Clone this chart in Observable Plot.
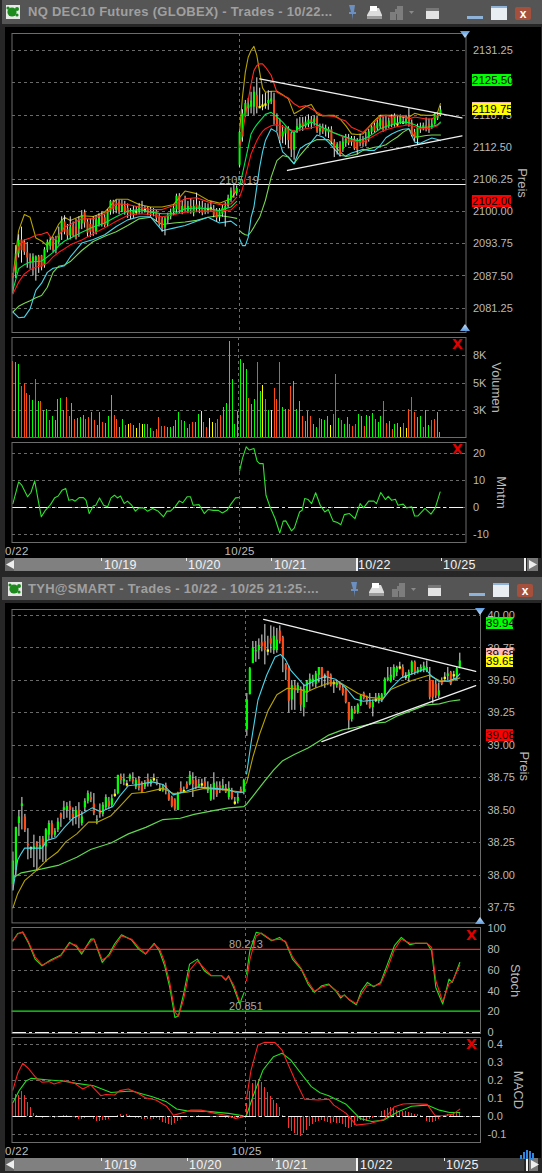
<!DOCTYPE html>
<html><head><meta charset="utf-8">
<script src="https://cdn.jsdelivr.net/npm/d3@7"></script>
<script src="https://cdn.jsdelivr.net/npm/@observablehq/plot@0.6"></script>
<style>
html,body{margin:0;padding:0;background:#262626;}
#page{position:relative;width:542px;height:1173px;overflow:hidden;font-family:"Liberation Sans",Arial,sans-serif;background:#262626;}
.abs{position:absolute;}
.win{position:absolute;background:#000;}
.bar{position:absolute;left:2px;width:540px;background:#555;}
.title{position:absolute;left:28px;color:#a0a0a0;font-weight:bold;font-size:13px;letter-spacing:.28px;white-space:nowrap;}
.tag{position:absolute;font-size:11.5px;line-height:12px;height:12px;text-align:center;color:#000;}
.xl{position:absolute;color:#bdbdbd;font-size:11.5px;letter-spacing:.3px;white-space:nowrap;}
.sb{position:absolute;height:13px;}
.st{position:absolute;color:#f2f2f2;font-size:12.5px;line-height:13px;letter-spacing:.3px;}
.tk{position:absolute;width:1px;height:3px;background:#eee;}
.x{position:absolute;color:#e00000;font-weight:bold;font-size:14px;line-height:14px;font-family:"DejaVu Sans",sans-serif;}
svg.plot{position:absolute;left:0;overflow:visible;}
</style></head><body><div id="page"></div>
<script>
// ---------- NQ DEC10 price ----------
const o1=[2087.9,2088,2091.8,2094.5,2094,2092,2091,2090.2,2090.4,2091.2,2091.4,2089.5,2092.5,2093.2,2094,2092.5,2094,2096,2098,2096.5,2095.3,2097.3,2097,2096.6,2097.6,2099.8,2098,2097.5,2097.4,2096,2097.5,2099,2098.8,2097.4,2100,2101.9,2100.2,2101.8,2100,2101,2100.6,2099.9,2099.4,2100,2100,2100.7,2100.3,2100.5,2100,2099.6,2100,2098.9,2098.4,2096.8,2098.3,2099,2099.8,2100.4,2103,2100,2101.3,2100,2101,2099.7,2101.3,2100.4,2100.8,2099.9,2100.5,2100.6,2100.4,2100,2098.8,2099.5,2100.4,2101,2102.3,2104.2,2103.5,2109,2114.5,2118.5,2120,2120.3,2120.3,2122.6,2120.3,2120.6,2120.8,2121,2121.3,2121.6,2118.4,2117.7,2114.5,2115.1,2116.1,2115.1,2111.9,2115.4,2116.1,2117.2,2116.5,2116.9,2117.8,2117.3,2118.2,2115.5,2116.3,2115.5,2115.3,2115.9,2113.5,2112.3,2113,2112,2113.2,2113.8,2113.4,2113.8,2113.5,2113.3,2114,2113.8,2114,2115.4,2116.7,2116.1,2116.5,2117.6,2117.2,2116.5,2118.2,2116.9,2117,2117.2,2117.3,2117.2,2118.4,2117.2,2115.4,2114.1,2115.9,2116.1,2116.7,2116.9,2116.4,2117,2118,2118.7];
const c1=[2087.1,2091.8,2094.4,2092.4,2092.1,2091,2090.3,2091.2,2091.2,2089.5,2089.2,2092.6,2094,2094.4,2092.5,2094.4,2095.6,2098.2,2096,2095.3,2097,2095.3,2095,2098.2,2099.2,2097.8,2095.8,2096,2096,2098.4,2099.2,2097.5,2097.3,2100,2102,2100.4,2101,2099.9,2101.4,2100,2099.6,2099.4,2100,2100,2100.9,2100.1,2100.3,2099.6,2099.5,2100,2098.7,2097.5,2096.7,2098.6,2099.2,2099.8,2100.6,2103,2100.2,2101,2100.2,2101,2100.3,2101,2100.7,2101.1,2099.7,2100.7,2100.5,2100.6,2099.3,2098.7,2099.8,2100.6,2101,2102.6,2104,2103.5,2104.5,2115.4,2119,2121,2120.7,2121.5,2123.2,2120.3,2120.3,2120.6,2120.8,2121.6,2121.9,2117.7,2116.9,2113.8,2115.5,2116.1,2113.8,2112,2115.4,2116.5,2117,2116.4,2117.4,2117.8,2117.1,2118,2115.5,2116.4,2115.5,2116.1,2116,2113.5,2112.2,2113,2111,2113.5,2114,2113.3,2114,2112.2,2111.9,2114,2113,2113.2,2115.5,2116.4,2115.6,2117.2,2118,2115.9,2116.1,2117.6,2116.9,2118.5,2117,2118.4,2117.3,2118,2116.9,2114.8,2114.3,2116.4,2116.4,2116.7,2115.9,2115.8,2117,2118.8,2118.7,2119.75];
const h1=[2088,2093.4,2095.5,2097,2094.5,2094,2091.8,2091.8,2091.4,2091.5,2091.5,2093,2094.5,2095,2095,2095.2,2097,2099,2099.2,2097.5,2099,2098,2098.5,2099,2100.2,2100.3,2098.5,2098.6,2099,2099.2,2099.6,2100,2099.4,2100.4,2102.2,2102.2,2102.2,2102.2,2102.2,2102,2101.5,2100.6,2101,2101,2101.6,2102,2101,2100.9,2100.8,2100.6,2100.4,2099.6,2098.9,2099,2099.7,2100.5,2101.3,2103.4,2103.5,2102,2103,2102,2102.5,2102.2,2103.6,2102,2102,2101.6,2101.5,2102,2101.2,2100.6,2100.6,2101.2,2101.8,2103.2,2104.6,2105.2,2105,2115.5,2119.8,2121.6,2122,2123.2,2124.2,2126,2124,2122.7,2123,2123.5,2123.3,2123,2119,2118,2116.7,2116.4,2116.5,2115.4,2115.7,2118,2118.3,2118.3,2118.4,2118.8,2118.5,2118.6,2118.6,2117,2117,2116.8,2116.4,2116.5,2114,2113.4,2113.6,2114.5,2115,2115,2114.6,2114.6,2114.2,2115,2114.6,2115.4,2116,2117,2117.4,2118,2118.7,2118.4,2118.7,2118.2,2118.8,2119,2118.6,2118.8,2118.4,2118.7,2120,2117.8,2116,2117,2117.2,2117.2,2118.2,2118,2118,2119,2119,2120.5];
const l1=[2084,2087,2091,2090,2091.5,2089,2088.8,2087.5,2086.5,2088,2088.5,2089,2092,2092.5,2092,2091.8,2093.5,2094.4,2095.5,2094.5,2094.5,2095,2094.5,2095,2096.5,2096.8,2095,2095,2095.2,2095.5,2097,2097,2096.9,2097,2099.3,2099.5,2099.6,2099.4,2099.8,2099.3,2098.7,2098.5,2098.7,2099.3,2099.4,2099.5,2099.7,2099.2,2099,2099,2098,2097,2096,2095.3,2097.6,2098.4,2099.2,2099.5,2099.6,2099.4,2099.8,2099.6,2099.5,2099,2099.8,2099.6,2099.2,2099.4,2099.5,2100,2098.8,2098,2098,2098.9,2097,2100.6,2101.8,2102.6,2103,2108.6,2113.5,2118.3,2118.5,2119,2118.7,2119,2120,2119.6,2119.9,2119.7,2120.8,2116.8,2115.5,2113.2,2113.2,2112.9,2112.2,2110.5,2110,2115.2,2115.6,2115.6,2116.2,2116.3,2116,2116.6,2115.2,2114.8,2115,2114.5,2114.2,2113,2110.5,2111,2110.6,2111.5,2112.5,2112.8,2112.7,2111.9,2111,2112.6,2112.5,2112.6,2113.5,2115,2115.2,2115.6,2116,2115.4,2115.7,2116.1,2116.3,2116.4,2116.4,2116.9,2116.9,2116.8,2116.4,2114.5,2113.6,2113,2115.2,2115.7,2115.5,2115.2,2116,2116.8,2117.7,2118.4];
const k1=[0,2,4,6,8,10,12,14,16,18,20,24,28,32,36,40,44,48,52,56,60,64,68,72,76,78,79,80,81,82,83,84,85,86,87,88,90,92,94,96,98,100,102,104,106,108,110,112,114,116,118,120,122,124,126,128,130,132,134,136,138,140,142,144,146,148,149];
const nqYellow=[2087.3,2096.3,2099.45,2098.9,2094.9,2094.3,2093.4,2095.4,2097.6,2098.9,2098.3,2099.2,2099.05,2099.9,2102.4,2102.4,2101.4,2100.9,2100.9,2101.4,2104,2103.5,2102.2,2101.65,2102.5,2104.1,2115.45,2122.25,2127.1,2130,2131.3,2132.1,2130.35,2127.1,2124.05,2123.2,2123.4,2123.4,2122.7,2121.9,2119,2119.65,2120.4,2120.8,2119,2118.6,2118.7,2118.7,2118,2116.7,2115.1,2115,2115.1,2116.4,2117.7,2118.7,2118.7,2118.7,2118.7,2118.35,2118.35,2119.1,2118.8,2118.7,2118.7,2119.3,2121];
const nqUpperRed=[2087.6,2093.1,2094.5,2094.9,2095.4,2095.6,2096,2094.3,2095.4,2097,2097.5,2098.6,2098.6,2099.6,2101.5,2101.4,2100.9,2100.4,2100.4,2101.2,2102.5,2102.7,2101.9,2101.4,2101.5,2102.8,2112.5,2115.1,2118.7,2121.6,2124.8,2127.4,2128.4,2128.7,2128.7,2128.1,2126.5,2123.2,2122.6,2122.1,2120.95,2120.3,2120.6,2120,2119.3,2118.7,2118.6,2118.5,2118,2117.6,2116.4,2115.9,2115.4,2116.4,2117.4,2118.4,2118.7,2118.4,2118.7,2118.55,2118,2118.4,2118.2,2118,2118,2118.7,2119];
const nqMidGreen=[2084.7,2088.9,2089.7,2090.2,2090.3,2090.4,2091.2,2092.1,2093.4,2094.3,2094.85,2096,2097,2097.8,2099,2100.1,2100.4,2099.9,2099.6,2099.6,2100.55,2100.7,2100.55,2100.2,2100.9,2102,2105.1,2107.35,2109.9,2112.5,2115.1,2116.1,2116.9,2117.6,2118.2,2118.9,2119.3,2118.4,2117.4,2116.1,2115.25,2116.4,2116.9,2117.4,2116.9,2116.3,2115.8,2115.3,2114.9,2114.5,2114.15,2113.8,2114,2114.6,2115.3,2116.1,2116.55,2116.9,2117.2,2117.4,2117.3,2116.9,2116.4,2116.4,2116.55,2116.9,2117.4];
const nqLowerRed=[2084,2086.3,2087.9,2088.7,2089.2,2089.5,2090,2091.2,2092.1,2092.8,2093.55,2094.5,2095.7,2096.85,2098.15,2099.25,2099.6,2099.45,2099,2099.4,2099.9,2100.1,2100.1,2100.1,2100.35,2101.4,2102.8,2104.4,2106.7,2109,2111.2,2112.5,2113.8,2114.8,2115.6,2116.1,2116.7,2116.9,2116.55,2116.1,2115.6,2115.9,2116.1,2116.3,2116.55,2116.15,2115.8,2115.25,2114.8,2114.3,2113.8,2113.6,2113.5,2114.15,2114.8,2115.45,2115.9,2116.2,2116.55,2116.7,2116.9,2116.55,2116.1,2116.1,2116.3,2116.7,2117.2];
const nqCyan=[2080.5,2079.4,2079.5,2081.1,2084.7,2086.1,2088.2,2089,2089.2,2089.5,2091.2,2093.9,2094.6,2095.5,2097.1,2098.4,2099,2099,2096.3,2096.8,2097.3,2098.15,2098.9,2097.8,2098.15,2097.3,2094.7,2093.4,2093.4,2095,2098.9,2100.9,2104.8,2108.65,2111.6,2113.8,2116.1,2115.45,2111.6,2110.6,2109.3,2112.2,2113,2113.5,2114.9,2114.5,2113.5,2112.2,2110.9,2110.8,2111.4,2111.75,2112.1,2111.9,2111.9,2112.85,2114.35,2115.1,2115.6,2116,2116.1,2113.5,2113.3,2113.8,2114.3,2114,2113.8];
const nqLightGreen=[2080.5,2081.6,2082.2,2082.7,2083.25,2083.7,2085.3,2088.2,2089.4,2089.65,2090.3,2092.45,2094.2,2095.2,2096.1,2097.3,2098.6,2098.9,2097.5,2097.8,2098,2098.3,2098.9,2099.25,2098.9,2098.7,2096.3,2095.8,2095.5,2095.4,2096.1,2097,2098,2098.9,2100.55,2102.2,2106.7,2109.9,2110.9,2110.6,2109.3,2110.9,2112.2,2113.5,2114,2114,2114,2112.85,2111.6,2110.7,2110.9,2111.2,2111.9,2112.2,2112.5,2112.65,2113,2113.8,2114.5,2115.45,2116.1,2114.5,2114.6,2114.8,2114.9,2114.9,2114.9];
const nqTrendTopX=[86,156.5], nqTrendTopY=[2125.8,2118.2];
const nqTrendLowX=[95.7,156.5], nqTrendLowY=[2108,2114.7];
const nqPriceTicks=[2131.25,2125,2118.75,2112.5,2106.25,2100,2093.75,2087.5,2081.25];
// ---------- NQ volume ----------
const volume=[7477,7346,7150,4963,5290,4310,4147,3592,5714,3559,3559,2677,2775,1698,2090,1698,3755,3820,2677,3950,2090,3363,1796,1861,1959,2188,1796,1959,2449,1650,1208,2449,1470,1371,2090,4147,2188,1796,980,1796,1208,1273,1371,1208,914,1371,1306,1306,1306,914,620,816,1959,1110,1045,980,947,1045,1698,2449,1698,1600,914,1306,1470,1437,2286,2579,1470,1012,1861,1437,1371,1796,2188,2971,3363,9370,5714,1306,2579,7673,7280,6693,3820,3265,3755,7346,4538,5126,3755,2645,2677,4800,3755,7346,2971,2775,2775,4963,5518,2775,3559,2090,1600,2579,2090,1306,947,1861,1796,1698,2090,1208,2286,6171,1861,1698,1306,1992,1306,1110,1273,2286,2090,1110,2188,2090,2351,1796,1470,2090,3559,1371,1600,816,1273,1371,1012,1371,882,2775,3950,2416,1959,2090,947,2612,1208,1698,1796,2449,490];
const volumeDir="rggrrrrgrgrggrgggggrrgrgggrrgrggrgggrrggryrgygygrgrrrrrgggggrggrrggyrryyrrrgggggggggrggrgyrgyrrrggrrgggrgg"+"rggrgggyrrgrggrrrggrgggrggrrgrggyryrrrggrggrrgg";
const volTicks=[8000,5333,2667];
// ---------- NQ momentum ----------
const mntmBar=[0,1.1,2,3.1,5.1,6.3,7.6,8.7,9.9,11.3,13.1,14.6,15.8,17.1,18.4,19.5,20.7,21.7,23.1,24.6,25.5,26.6,28,28.9,30.2,31.6,33,34.2,35.4,36.4,37.5,38.8,39.9,41.4,42.7,43.9,45.3,46.9,48.7,50.5,52.5,53.7,54.9,56.5,58,59.2,60.7,61.9,62.8,64.9,66.7,68,69.8,71.6,73,74.6,76.1,77.6,78.6,79,80,81.3,82.4,84,85.1,86,87.2,88.2,89.6,91.4,93,94.2,95.1,97.1,98.1,99.9,100.8,101.7,102.9,104.1,105.5,107.1,108.7,109.9,111.6,113.1,114.3,115.5,117.3,119.2,121,122.2,124,125.8,126.7,128.2,129.8,130.8,132,133.3,134.2,136,137.2,139,140,141.1,143.6,145.7,147.2,148.9];
const mntmVal=[1.6,5.9,9.6,8.4,4.1,5.7,10,3.5,-3.3,-0.9,1.2,3.8,4.4,6.5,7.2,2.8,3.1,2.5,3.8,3.8,2.8,-2.1,0.7,1,3.7,1,0.4,3.7,4.7,3.7,4.4,1.6,2.5,1,-1.2,0,0.1,-1.2,-0.2,-1.1,-3.3,-1.2,-1.2,0.4,2.6,1.9,4.1,4.1,1,1.2,-2.1,-0.6,-0.9,-0.9,-1.9,-0.9,1.6,3.7,3.8,13.6,18.3,22.6,21.4,22,17.3,16.4,16.4,4.7,0.4,-4,-9.3,-4.9,-4.8,-8.5,-7.4,-1.5,-0.9,3.5,3.1,1.6,5.6,1,-1.5,-0.6,-4.9,-5.4,-6.2,-2.5,-2.1,-4,1.6,0,2.5,2.5,1.6,5.7,3.1,4.3,2.8,3.2,1,1.4,0,0.4,-3,-3,-0.2,-2.3,0,5.9];
const mntmTicks=[20,10,0,-10];
// ---------- TYH price ----------
const o2=[37.93,38.04,38.4,38.53,38.45,38.24,38.21,38.2,38.25,38.2,38.28,38.22,38.31,38.4,38.31,38.35,38.47,38.5,38.5,38.53,38.47,38.45,38.5,38.4,38.52,38.57,38.6,38.55,38.42,38.5,38.47,38.52,38.57,38.54,38.62,38.63,38.76,38.72,38.7,38.74,38.74,38.68,38.74,38.71,38.68,38.74,38.7,38.74,38.72,38.66,38.65,38.69,38.63,38.6,38.58,38.5,38.67,38.65,38.7,38.7,38.73,38.73,38.68,38.7,38.72,38.65,38.58,38.67,38.68,38.69,38.67,38.67,38.6,38.65,38.56,38.57,38.66,38.64,39.12,39.39,39.63,39.72,39.73,39.79,39.8,39.73,39.82,39.73,39.73,39.88,39.83,39.62,39.6,39.35,39.46,39.42,39.43,39.29,39.4,39.47,39.49,39.47,39.54,39.6,39.53,39.57,39.54,39.48,39.46,39.47,39.44,39.43,39.33,39.2,39.27,39.25,39.31,39.4,39.36,39.35,39.29,39.35,39.34,39.35,39.39,39.5,39.49,39.52,39.56,39.6,39.6,39.53,39.52,39.56,39.64,39.56,39.57,39.58,39.57,39.5,39.5,39.47,39.38,39.5,39.52,39.53,39.56,39.54,39.53,39.6];
const c2=[38.11,38.37,38.45,38.55,38.35,38.23,38.21,38.22,38.22,38.23,38.22,38.35,38.4,38.31,38.34,38.41,38.44,38.52,38.53,38.5,38.44,38.5,38.44,38.45,38.57,38.63,38.58,38.48,38.43,38.47,38.54,38.6,38.53,38.59,38.62,38.77,38.73,38.74,38.7,38.77,38.72,38.73,38.67,38.64,38.71,38.7,38.73,38.74,38.7,38.66,38.68,38.65,38.58,38.53,38.51,38.63,38.64,38.65,38.67,38.77,38.7,38.68,38.7,38.7,38.68,38.68,38.66,38.71,38.62,38.65,38.69,38.64,38.67,38.59,38.56,38.6,38.64,38.73,39.35,39.59,39.75,39.73,39.77,39.76,39.73,39.73,39.78,39.84,39.81,39.8,39.67,39.58,39.34,39.46,39.42,39.46,39.31,39.43,39.49,39.51,39.51,39.55,39.6,39.52,39.53,39.52,39.46,39.48,39.48,39.44,39.4,39.33,39.19,39.28,39.25,39.31,39.38,39.36,39.33,39.29,39.33,39.35,39.38,39.39,39.51,39.52,39.54,39.6,39.6,39.6,39.54,39.53,39.56,39.64,39.56,39.58,39.6,39.61,39.6,39.37,39.37,39.38,39.42,39.47,39.52,39.55,39.47,39.54,39.59,39.65];
const h2=[38.18,38.37,38.5,38.6,38.47,38.36,38.22,38.31,38.26,38.3,38.3,38.36,38.42,38.42,38.36,38.44,38.48,38.57,38.56,38.57,38.52,38.53,38.56,38.49,38.59,38.65,38.64,38.63,38.46,38.55,38.56,38.62,38.6,38.62,38.66,38.77,38.78,38.78,38.73,38.78,38.79,38.75,38.76,38.72,38.73,38.78,38.74,38.78,38.74,38.7,38.7,38.71,38.65,38.61,38.59,38.64,38.72,38.68,38.72,38.8,38.79,38.76,38.74,38.74,38.75,38.72,38.7,38.79,38.72,38.72,38.74,38.7,38.72,38.67,38.6,38.63,38.68,38.74,39.4,39.6,39.8,39.8,39.82,39.85,39.93,39.84,39.92,39.91,39.9,39.92,39.84,39.63,39.61,39.5,39.5,39.48,39.45,39.47,39.5,39.55,39.54,39.57,39.6,39.6,39.55,39.57,39.55,39.5,39.5,39.49,39.46,39.44,39.33,39.3,39.3,39.32,39.39,39.41,39.38,39.4,39.35,39.4,39.4,39.4,39.52,39.6,39.6,39.62,39.61,39.64,39.62,39.56,39.58,39.65,39.65,39.6,39.62,39.64,39.65,39.6,39.5,39.5,39.48,39.52,39.56,39.6,39.57,39.57,39.6,39.71];
const l2=[37.88,38,38.3,38.35,38.33,38.12,38.13,38.06,38.03,38.12,38.1,38.1,38.27,38.28,38.29,38.33,38.37,38.43,38.44,38.42,38.38,38.39,38.36,38.38,38.49,38.55,38.56,38.46,38.39,38.44,38.45,38.5,38.51,38.52,38.6,38.62,38.7,38.69,38.68,38.72,38.7,38.66,38.65,38.63,38.66,38.68,38.68,38.72,38.69,38.65,38.64,38.62,38.57,38.52,38.5,38.5,38.63,38.63,38.66,38.69,38.6,38.66,38.67,38.67,38.66,38.63,38.57,38.58,38.6,38.63,38.65,38.63,38.58,38.58,38.54,38.55,38.63,38.62,39.07,39.39,39.63,39.64,39.66,39.72,39.62,39.69,39.71,39.7,39.71,39.78,39.56,39.5,39.25,39.27,39.27,39.4,39.26,39.22,39.33,39.42,39.45,39.44,39.48,39.45,39.44,39.46,39.45,39.4,39.44,39.42,39.38,39.32,39.12,39.18,39.24,39.24,39.3,39.35,39.31,39.28,39.22,39.33,39.32,39.33,39.38,39.49,39.48,39.5,39.53,39.58,39.52,39.5,39.49,39.54,39.54,39.55,39.56,39.56,39.56,39.35,39.32,39.36,39.36,39.46,39.49,39.5,39.46,39.5,39.5,39.59];
const tyCyanX=[0,.7,1.6,2.8,3.9,9.7,11.4,14.3,17.2,20,23.5,26.4,29.3,33.3,35.6,38.5,41.9,46.5,50,53.5,58,61.5,67.3,71.9,74.2,76.8,77.9,79.4,81.7,84.6,87.4,89.2,90.9,92.6,94.9,97.2,100.7,104.1,107.6,111.1,113.9,116.8,120.3,123.2,126,129.5,132.9,137.6,139.3,142.2,145.6,147.9,149];
const tyCyanY=[37.89,37.99,38.12,38.17,38.21,38.21,38.27,38.29,38.37,38.44,38.48,38.52,38.49,38.53,38.61,38.69,38.7,38.72,38.7,38.62,38.65,38.68,38.67,38.66,38.64,38.64,38.78,39.02,39.35,39.54,39.68,39.7,39.66,39.58,39.52,39.46,39.5,39.53,39.51,39.44,39.36,39.34,39.35,39.35,39.44,39.52,39.55,39.59,39.54,39.49,39.5,39.52,39.55];
const tyYellowX=[0,1.6,3.9,7.4,11.4,14.9,17.7,21.3,25.2,28.1,32.7,35.6,39.6,44.3,50,53.5,58,63.8,69.6,76.8,77.9,80,82.3,85.1,88,91.5,96.1,97.8,100.7,105.3,109.3,112.2,115.1,118.6,123.2,126,128.9,133,138.7,142.2,145.6,149];
const tyYellowY=[37.75,37.86,37.96,38.03,38.12,38.18,38.26,38.32,38.41,38.41,38.46,38.53,38.63,38.64,38.67,38.63,38.64,38.67,38.66,38.64,38.71,38.91,39.09,39.27,39.39,39.44,39.43,39.41,39.44,39.48,39.48,39.44,39.4,39.37,39.36,39.43,39.46,39.5,39.54,39.5,39.49,39.52];
const tyGreenX=[0,2.8,9.7,15.4,21.3,25.9,32.7,38.5,44.3,50,55.8,60.4,67.3,71.9,77,78,83.4,86.9,89.8,93.8,98.4,101.9,105.3,109.9,114.5,120.3,124.3,128.4,133,137.6,142.2,145.6,149];
const tyGreenY=[37.98,38.02,38.05,38.08,38.14,38.2,38.25,38.32,38.37,38.43,38.44,38.47,38.5,38.52,38.53,38.55,38.71,38.81,38.88,38.93,38.98,39.03,39.08,39.12,39.14,39.17,39.18,39.23,39.27,39.31,39.32,39.34,39.35];
const tyTrendTopX=[83.6,154.3], tyTrendTopY=[39.97,39.57];
const tyTrendLowX=[103,154.3], tyTrendLowY=[39.03,39.46];
const tyPriceTicks=[40,39.75,39.5,39.25,39,38.75,38.5,38.25,38,37.75];
// ---------- TYH stochastics ----------
const stochX=[0,1.6,3.3,5.1,7.4,9.7,12.6,16,18.9,21.2,22.9,26,27,29.8,32.1,33.9,36.2,39.6,41.9,44.2,47.1,48.8,50.6,52.3,54,55.2,56.9,58.9,61.5,63.8,66.1,69.6,71,71.9,73.6,75.6,77.1,77.9,79,81.1,82.8,86.3,88.9,90.9,93.2,96.1,98.4,100.5,103,105.3,107.6,109.3,110.5,112.2,114.5,116.2,118.2,120.3,122.6,124.9,127.2,129.5,132.4,134.1,136.2,138.1,139.6,141,143.3,145.4,146.5,149];
const stochGreen=[88.5,95.5,96.5,86.9,70.8,64.4,69.9,74.7,86.9,82.7,75.6,90,90,67.6,75.6,85.3,94.2,89.1,80.4,75.6,85.9,78.8,64.4,43.6,14.7,16.3,37.2,66,70.8,59.6,54.8,54.8,50.6,54.8,43.6,27.6,38.8,56.4,78.8,96.5,95.5,88.5,91.7,86.9,70.8,61.2,46.8,38.8,45.2,46.8,40.4,33.3,36.5,31.4,26.9,40.4,48.4,44.2,48.4,66,83.7,91.7,84.6,85.9,85.9,85.9,78.8,43.6,27.6,51.6,48.4,67.6];
const stochRed=[88,95,97,88,73,65,69,74,86,84,77,88,90,70,74,83,93,90,82,76,85,81,68,48,20,16,32,60,69,62,55,55,51,54,46,30,30,50,70,93,96,89,90,88,73,62,49,40,44,46,41,35,36,32,28,37,46,45,47,62,80,90,86,86,86,86,82,50,30,47,49,65];
const stochLevels=[80.213,20.851];
const stochTicks=[100,80,60,40,20,0];
const stochGrid=[60,40];
// ---------- TYH MACD ----------
const macdX=[0,1.6,3.3,5.1,7.4,9.7,12,13.7,17.2,20.6,23.3,26,29.3,31,33.9,35.6,38.5,41.4,44.2,47.7,51.2,53.5,55.8,59.2,62.7,67.3,71.9,74.2,76.8,77.9,79.4,81.7,84,87.4,89.7,92.1,93.8,97.2,101.8,105.3,107,111.1,114.5,119.1,123.7,127.2,130.1,132.9,138.1,140.8,143.3,146.8,149];
const macdRed=[.146,.239,.294,.267,.22,.189,.193,.18,.198,.183,.152,.174,.115,.122,.119,.143,.152,.131,.104,.091,.057,.007,.017,.035,.035,.017,.004,-.011,-.002,.1,.257,.396,.411,.409,.369,.276,.211,.096,.091,.096,.063,.017,-.048,-.039,-.017,.054,.069,.072,.067,.004,.004,.013,.041];
const signalX=[0,2.2,4.5,6.2,12,16.6,21.2,26.9,32.7,39.6,46.5,51.2,54.6,58,64.9,71.9,76.8,77.9,80,83.4,86.9,89.7,92.6,96,99.5,102.4,105.3,111.1,115.7,119.7,123.7,128.4,132.9,138.1,142.2,145.6,149];
const signalGreen=[.076,.146,.198,.211,.202,.196,.183,.17,.133,.141,.109,.081,.041,.031,.028,.017,.004,.007,.109,.257,.331,.35,.313,.239,.165,.131,.115,.067,-.011,-.028,-.02,.026,.057,.063,.035,.022,.022];
const macdHist=[.075,.12,.118,.137,.118,.076,.048,.017,.007,-.006,-.011,-.002,-.006,0,-.011,-.006,0,.005,.005,.002,0,-.009,-.017,-.017,-.009,0,-.006,-.015,-.03,-.03,-.024,-.02,-.017,-.005,.002,.007,.013,.007,.011,.004,0,-.01,-.013,-.015,-.015,-.015,-.017,-.015,-.011,-.02,-.033,-.04,-.046,-.052,-.04,-.026,-.015,0,.001,.001,.001,.001,.004,.001,.001,0,0,0,0,.001,0,-.01,-.013,-.013,-.013,-.013,-.005,0,.072,.14,.183,.2,.205,.187,.159,.133,.109,.09,.07,.048,.007,-.006,-.067,-.085,-.094,-.104,-.113,-.094,-.076,-.057,-.043,-.033,-.026,-.02,-.026,-.033,-.037,-.033,-.04,-.04,-.043,-.061,-.067,-.061,-.048,-.03,-.02,-.026,-.026,-.017,-.013,-.006,.002,.026,.031,.043,.05,.044,.035,.03,.028,.028,.02,.017,.013,.009,.004,0,-.026,-.033,-.031,-.026,-.015,0,.007,.011,.013,.02,.02,.015];
const macdTicks=[.4,.3,.2,.1,0,-.1];
// ---------- text ----------
const dayLabels=["10/19","10/20","10/21","10/22","10/25"];
const title1="NQ DEC10 Futures (GLOBEX) - Trades - 10/22...";
const title2="TYH@SMART - Trades - 10/22 - 10/25 21:25:...";

// ---------- helpers ----------
const page=document.getElementById("page");
const GREEN="#00ff00",RED="#ff4a14",YEL="#ffff00",AXIS="#b9b9b9",GRID="#6a6a6a";
const CRISP="crispEdges";
function el(cls,css,text){const d=document.createElement("div");d.className=cls;d.style.cssText=css;if(text!=null)d.textContent=text;page.appendChild(d);return d;}
function table(x,y){return x.map((v,i)=>({x:v,y:y[i]}));}
function panel(top,h,right,xDomain,yDomain,ticks,fmt,marks,rot){
  const chart=Plot.plot({
    width:542,height:h,marginLeft:11.5,marginRight:542-right,marginTop:0,marginBottom:0,
    x:{domain:xDomain,axis:null},y:{domain:yDomain,axis:null},
    style:{background:"transparent",fontFamily:'"Liberation Sans",Arial,sans-serif',fontSize:"11px",overflow:"visible"},
    marks:[
      Plot.ruleY(rot.grid||ticks,{stroke:GRID,strokeWidth:1,strokeDasharray:"3,3",shapeRendering:CRISP}),
      ...marks,
      Plot.frame({stroke:"#6c6c6c",strokeWidth:1}),
      Plot.axisY(ticks,{anchor:"right",tickSize:0,tickPadding:7,tickFormat:fmt,color:AXIS,label:null,fontSize:11}),
      Plot.text([rot.text],{frameAnchor:"right",textAnchor:"middle",dx:rot.dx,rotate:90,fill:AXIS,fontSize:rot.size||13})
    ]});
  chart.style.position="absolute";chart.style.top=top+"px";chart.style.left="0";
  page.appendChild(chart);return chart;
}
function candleMarks(o,c,h,l,w){
  const rows=o.map((v,i)=>({i,o:v,c:c[i],h:h[i],l:l[i]}));
  const up=rows.filter(d=>d.c>d.o),dn=rows.filter(d=>d.c<d.o),dj=rows.filter(d=>d.c===d.o);
  return [
    Plot.ruleX(rows,{x:"i",y1:"l",y2:"h",stroke:"#e4e4e4",strokeWidth:1}),
    Plot.ruleX(up,{x:"i",y1:"o",y2:"c",stroke:GREEN,strokeWidth:w}),
    Plot.ruleX(dn,{x:"i",y1:"o",y2:"c",stroke:RED,strokeWidth:w}),
    Plot.dot(dj,{x:"i",y:"o",r:1.3,symbol:"square",fill:YEL})
  ];
}
function sessions(k,y,cut){return [k.map((x,i)=>({x,y:y[i]})).filter(d=>d.x<cut),k.map((x,i)=>({x,y:y[i]})).filter(d=>d.x>=cut)];}
function lineS(k,y,cut,stroke,w){return sessions(k,y,cut).map(s=>Plot.line(s,{x:"x",y:"y",stroke,strokeWidth:w||1.1}));}

// ---------- chrome ----------
function icons(t,dx){
  const s=document.createElementNS("http://www.w3.org/2000/svg","svg");
  s.setAttribute("width","542");s.setAttribute("height","24");
  s.style.cssText="position:absolute;left:0;top:"+t+"px;";
  s.innerHTML=`<g transform="translate(${dx},0)">
  <rect x="6" y="5" width="14" height="14" fill="#e8e8e8"/><circle cx="12" cy="12" r="4.6" fill="#1c8a1c"/><circle cx="17" cy="9" r="2" fill="#1c8a1c"/><circle cx="8" cy="8" r="1.6" fill="#1c8a1c"/><circle cx="17" cy="15" r="1.6" fill="#1c8a1c"/>
  <path d="M349 5h6l-1 7h2v2h-3l-.5 6-.5-6h-3v-2h2z" fill="#6a8fc0"/>
  <path d="M367 15l4-7h8l3 7v4h-15z" fill="#dcdcdc"/><rect x="370" y="6" width="7" height="5" fill="#fff"/><rect x="367" y="16" width="15" height="3" fill="#9a9a9a"/>
  <path d="M390 12h6v8h-6zM397 6h6v14h-6zM395 9h6v5h-6z" fill="#7d7d7d"/><path d="M409 11h5l-2.5 3z" fill="#8a8a8a"/>
  <rect x="426" y="8" width="13" height="11" fill="#e3e3e3"/><rect x="426" y="8" width="13" height="3" fill="#777"/>
  <rect x="467" y="16" width="16" height="3" fill="#8fb3d8"/>
  <rect x="491" y="6" width="16" height="14" fill="#e9eef2"/><rect x="491" y="6" width="16" height="2" fill="#8fb3d8"/>
  <rect x="515" y="7" width="16" height="13" rx="2" fill="#a4503c"/><text x="523" y="18" text-anchor="middle" fill="#fff" font-size="12" font-weight="bold" font-family="Liberation Sans">x</text></g>`;
  page.appendChild(s);
}
el("bar","top:0;height:24px;");
el("win","left:5px;top:27px;width:536px;height:531px;");
el("bar","top:577px;height:23px;");
el("win","left:5px;top:603px;width:536px;height:555px;");
el("title","top:4px;line-height:16px;",title1);
el("title","top:581px;line-height:16px;",title2);
icons(0,0);icons(577,2);

// ---------- scrollbars ----------
function scroll(top,tickX,labelX,xl){
  el("sb",`left:5px;top:${top}px;width:351px;background:#808080;`);
  el("sb",`left:358px;top:${top}px;width:166px;background:#3d3d3d;`);
  el("sb",`left:356px;top:${top}px;width:2px;background:#f4f4f4;`);
  el("sb",`left:${xl}px;top:${top}px;width:2px;background:#f4f4f4;`);
  el("sb",`left:${xl+3}px;top:${top}px;width:${538-xl-3}px;background:#777;`);
  el("sb",`left:5px;top:${top}px;width:9px;background:#666;`);
  el("abs",`left:6px;top:${top+2}px;width:8px;height:9px;background:#eee;clip-path:polygon(100% 0,0 50%,100% 100%);`);
  el("abs",`left:${xl+5}px;top:${top+2}px;width:8px;height:9px;background:#eee;clip-path:polygon(0 0,100% 50%,0 100%);`);
  dayLabels.forEach((d,i)=>{el("tk",`left:${tickX[i]}px;top:${top}px;`);el("st",`left:${labelX[i]}px;top:${top+1}px;`,d);});
}
scroll(558,[101,186,271,356,441],[104,188,274,358,443],524);
scroll(1158,[101,187,272,357,444],[104,189,275,360,446],526);
function xLabels(y,cx){
  el("xl",`left:5px;top:${y}px;`,"0/22");
  el("xl",`left:${cx-14}px;top:${y}px;`,"10/25");
}
xLabels(545,238.5);xLabels(1145,245.5);

// ---------- NQ panels ----------
const xN=[-.31,157.9], cutN=79, sepN=78.8;
const f2=d3.format(".2f");
const sep=(x)=>Plot.ruleX([x],{stroke:GRID,strokeDasharray:"3,3",shapeRendering:CRISP});
const nqChart=panel(33,299,465.5,xN,[2076.52,2134.61],nqPriceTicks,f2,[
  sep(sepN),
  Plot.ruleY([2105.19],{stroke:"#f4f4f4",strokeWidth:1,shapeRendering:CRISP}),
  Plot.text(["2105.19"],{x:()=>sepN,y:()=>2106.1,fill:"#a8a8a8",fontSize:11,text:d=>d}),
  ...lineS(k1,nqLightGreen,cutN,"#78d850"),
  ...lineS(k1,nqCyan,cutN,"#48d4e8"),
  ...lineS(k1,nqYellow,cutN,"#b8a400"),
  ...candleMarks(o1,c1,h1,l1,2),
  ...lineS(k1,nqUpperRed,cutN,"#ff2a20"),
  ...lineS(k1,nqLowerRed,cutN,"#ff1818"),
  ...lineS(k1,nqMidGreen,cutN,"#00e850"),
  Plot.line(table(nqTrendTopX,nqTrendTopY),{x:"x",y:"y",stroke:"#f0f0f0",strokeWidth:1.3}),
  Plot.line(table(nqTrendLowX,nqTrendLowY),{x:"x",y:"y",stroke:"#f0f0f0",strokeWidth:1.3})
],{text:"Preis",dx:56.5,size:13});
const volRows=volume.map((v,i)=>({i,v,d:volumeDir[i]}));
panel(337.3,100,465.5,[-.32,161.3],[0,9800],volTicks,d=>Math.round(d/1000)+"K",[
  Plot.ruleX([80.3],{stroke:GRID,strokeDasharray:"3,3",shapeRendering:CRISP}),
  Plot.ruleX(volRows,{x:"i",y1:0,y2:"v",stroke:d=>d.d==="g"?GREEN:d.d==="r"?RED:YEL,strokeWidth:1,shapeRendering:CRISP}),
  Plot.ruleY([0],{stroke:"#f4f4f4",strokeWidth:1.5,strokeDasharray:"14,2",shapeRendering:CRISP})
],{text:"Volumen",dx:30.5,size:13});
panel(442.3,100,465.5,xN,[-12.8,24.2],mntmTicks,d=>String(d),[
  sep(sepN),
  Plot.ruleY([0],{stroke:"#f4f4f4",strokeWidth:1,strokeDasharray:"14,3,3,3",shapeRendering:CRISP}),
  ...lineS(mntmBar,mntmVal,78.8,"#2fe02f")
],{text:"Mntm",dx:35,size:13});

// ---------- TYH panels ----------
const xT=[-.3,155.9], sepT=77.7;
const tyChart=panel(609.3,313.4,480,xT,[37.635,40.046],tyPriceTicks,f2,[
  sep(sepT),
  Plot.line(table(tyGreenX,tyGreenY),{x:"x",y:"y",stroke:"#60d850",strokeWidth:1.2}),
  ...candleMarks(o2,c2,h2,l2,2.2),
  ...lineS(tyYellowX,tyYellowY,77.5,"#b8a400"),
  ...lineS(tyCyanX,tyCyanY,77.5,"#48d4e8"),
  Plot.line(table(tyTrendTopX,tyTrendTopY),{x:"x",y:"y",stroke:"#f0f0f0",strokeWidth:1.3}),
  Plot.line(table(tyTrendLowX,tyTrendLowY),{x:"x",y:"y",stroke:"#f0f0f0",strokeWidth:1.3})
],{text:"Preis",dx:44,size:13});
panel(926.7,106,480,xT,[-.7,101.2],stochTicks,d=>String(d),[
  sep(sepT),
  Plot.ruleY([0],{stroke:"#f4f4f4",strokeWidth:1,strokeDasharray:"14,3,3,3",shapeRendering:CRISP}),
  Plot.ruleY([stochLevels[0]],{stroke:"#ff2020",strokeWidth:1.2}),
  Plot.ruleY([stochLevels[1]],{stroke:"#18e818",strokeWidth:1.2}),
  Plot.text([stochLevels[0].toFixed(3)],{x:()=>sepT,y:()=>stochLevels[0]+5,fill:"#a8a8a8",fontSize:11,text:d=>d}),
  Plot.text([stochLevels[1].toFixed(3)],{x:()=>sepT,y:()=>stochLevels[1]+4.2,fill:"#a8a8a8",fontSize:11,text:d=>d}),
  ...lineS(stochX,stochGreen,77.5,"#20e020"),
  ...lineS(stochX,stochRed,77.5,"#ff2020")
],{text:"Stoch",dx:35,size:13,grid:stochGrid});
const histRows=macdHist.map((v,i)=>({i,v}));
panel(1037.3,105,480,xT,[-.144,.437],macdTicks,d=>d===0?"0.0":d.toFixed(1),[
  sep(sepT),
  Plot.ruleX(histRows,{x:"i",y1:0,y2:"v",stroke:"#ff3030",strokeWidth:1,shapeRendering:CRISP}),
  Plot.ruleY([0],{stroke:"#f4f4f4",strokeWidth:1,strokeDasharray:"14,3,3,3",shapeRendering:CRISP}),
  ...lineS(signalX,signalGreen,77.5,"#20e020"),
  ...lineS(macdX,macdRed,77.5,"#ff2020")
],{text:"MACD",dx:38,size:13});

// ---------- price tags, placed through each chart's own y scale ----------
function tag(chart,top,v,text,bg,x,w){
  const y=top+chart.scale("y").apply(v);
  el("tag",`left:${x}px;top:${y-6}px;width:${w}px;background:${bg};`,text);
}
const nqTags=[[2120.1,"","#e8b8b8"],[2125.5,"2125.50","#00ff00"],[2119.75,"2119.75","#ffff00"],[2102,"2102.00","#ff0000"]];
const tyTags=[[39.7,"39.68","#ffb8b8"],[39.94,"39.94","#00ff00"],[39.65,"39.65","#ffff00"],[39.08,"39.08","#ff0000"]];
nqTags.forEach(t=>tag(nqChart,33,t[0],t[1],t[2],472,39));
tyTags.forEach(t=>tag(tyChart,609.3,t[0],t[1],t[2],486,27));

// ---------- range markers, close marks and small icon ----------
[[457.4,344.3],[457.4,449.3],[471.5,934.7],[471.5,1044.3]].forEach(p=>el("x",`left:${p[0]-5.5}px;top:${p[1]-7}px;`,"X"));
[[460,31,0],[460,324,1],[475,608,0],[475,917,1]].forEach(m=>{
  el("abs",`left:${m[0]}px;top:${m[1]}px;width:10px;height:7px;background:linear-gradient(${m[2]?"#cfe3f7,#5b9be0":"#5b9be0,#cfe3f7"});clip-path:polygon(${m[2]?"50% 0,100% 100%,0 100%":"0 0,100% 0,50% 100%"});`);
});
[[520,1155,4],[523,1152,7],[526,1150,9],[529,1151,8],[532,1153,6]].forEach(b=>el("abs",`left:${b[0]}px;top:${b[1]}px;width:2px;height:${b[2]}px;background:#2f86e0;`));
</script></body></html>
